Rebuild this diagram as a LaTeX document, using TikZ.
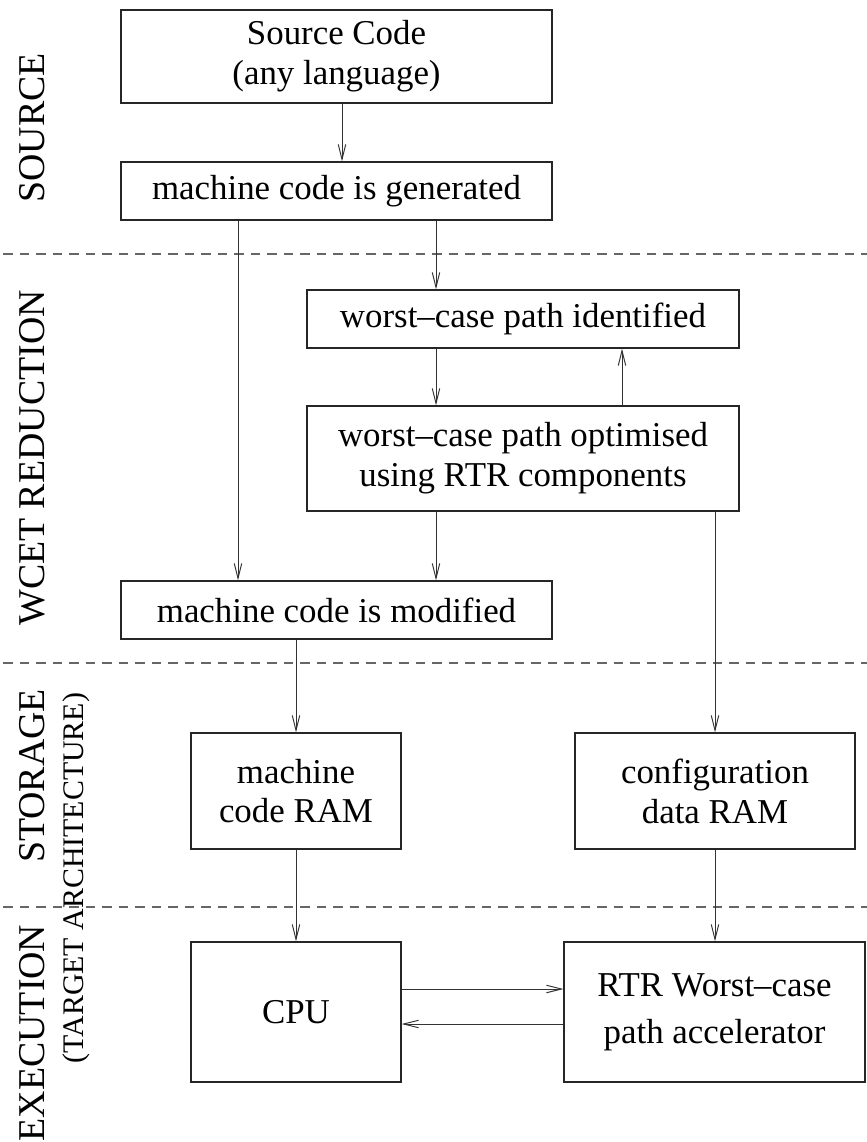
\documentclass[tikz,border=0pt]{standalone}
\usepackage{fontspec}
\setmainfont{Liberation Serif}
\usetikzlibrary{arrows.meta}
\begin{document}
\begin{tikzpicture}[x=1bp,y=-1bp,
  box/.style={draw=black!85, line width=1.1bp, inner sep=0pt, align=center,
    font=\fontsize{35}{40}\selectfont},
  flow/.style={-{Straight Barb[length=15bp,width=7.5bp]}, line width=1bp, draw=black!80},
  tier/.style={draw=black!60, line width=1.1bp, dash pattern=on 9.5bp off 7bp},
  lane/.style={rotate=90, inner sep=0pt, font=\fontsize{38}{44}\selectfont}]
\useasboundingbox (0,0) rectangle (867,1142);

% tier separators
\coordinate (d1l) at (3,254);  \coordinate (d1r) at (867,254);
\coordinate (d2l) at (3,663);  \coordinate (d2r) at (867,663);
\coordinate (d3l) at (3,907);  \coordinate (d3r) at (867,907);
\draw[tier] (d1l) -- (d1r);
\draw[tier] (d2l) -- (d2r);
\draw[tier] (d3l) -- (d3r);

% tier labels
\node[lane] (lsrc) at (32,128) {SOURCE};
\node[lane] (lwcet) at (32,458) {WCET REDUCTION};
\node[lane] (lsto) at (32,776) {STORAGE};
\node[lane] (lexe) at (32,1033) {EXECUTION};
\node[lane, font=\fontsize{30}{36}\selectfont] (larch) at (76,878) {(TARGET ARCHITECTURE)};

% process boxes
\node[box, minimum width=431bp, minimum height=93bp] (src) at (336.5,56.5) {Source Code\\(any language)};
\node[box, minimum width=431bp, minimum height=58bp] (gen) at (336.5,191) {machine code is generated};
\node[box, minimum width=432bp, minimum height=58bp] (ident) at (523,319) {worst–case path identified};
\node[box, minimum width=432bp, minimum height=105bp] (opt) at (523,458.5) {worst–case path optimised\\using RTR components};
\node[box, minimum width=431bp, minimum height=58bp] (mod) at (336.5,610) {machine code is modified};
\node[box, minimum width=210bp, minimum height=116bp] (mram) at (296,791) {machine\\code RAM};
\node[box, minimum width=280bp, minimum height=116bp] (cram) at (715,791) {configuration\\data RAM};
\node[box, minimum width=210bp, minimum height=140bp] (cpu) at (296,1012) {CPU};
\node[box, minimum width=301bp, minimum height=140bp, font=\fontsize{35}{47}\selectfont] (rtr) at (714.5,1012) {RTR Worst–case\\path accelerator};

% connector columns and rows
\coordinate (cA) at (342,0);
\coordinate (cB) at (238,0);
\coordinate (cC) at (436,0);
\coordinate (cD) at (622,0);
\coordinate (cE) at (715,0);
\coordinate (cF) at (296,0);
\coordinate (rA) at (0,989);
\coordinate (rB) at (0,1024);

\draw[flow] (src.south -| cA) -- (gen.north -| cA);
\draw[flow] (gen.south -| cB) -- (mod.north -| cB);
\draw[flow] (gen.south -| cC) -- (ident.north -| cC);
\draw[flow] (ident.south -| cC) -- (opt.north -| cC);
\draw[flow] (opt.north -| cD) -- (ident.south -| cD);
\draw[flow] (opt.south -| cC) -- (mod.north -| cC);
\draw[flow] (opt.south -| cE) -- (cram.north -| cE);
\draw[flow] (mod.south -| cF) -- (mram.north -| cF);
\draw[flow] (mram.south -| cF) -- (cpu.north -| cF);
\draw[flow] (cram.south -| cE) -- (rtr.north -| cE);
\draw[flow] (cpu.east |- rA) -- (rtr.west |- rA);
\draw[flow] (rtr.west |- rB) -- (cpu.east |- rB);
\end{tikzpicture}
\end{document}
